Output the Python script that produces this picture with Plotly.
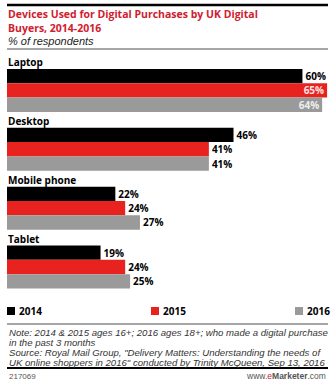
import plotly.graph_objects as go

categories = ["Laptop", "Desktop", "Mobile phone", "Tablet"]
years = ["2014", "2015", "2016"]
values_2014 = [60, 46, 22, 19]
values_2015 = [65, 41, 24, 24]
values_2016 = [64, 41, 27, 25]
series = [values_2014, values_2015, values_2016]
colors = ["#000000", "#e8231f", "#9a9a9a"]
inside_text_colors = ["#ffffff", "#ffe0e0", "#eeeeee"]

W, H = 336, 390
L, R, T, B = 7, 332, 61, 304  # plot area in px


def px(x):
    return (x - L) / (R - L)


def py(y):
    return (B - y) / (B - T)


fig = go.Figure()
for name, vals, col, icol in zip(years, series, colors, inside_text_colors):
    pos = ["inside" if v >= 62 else "outside" for v in vals]
    fig.add_trace(go.Bar(
        y=categories, x=vals, name=name, orientation="h",
        marker=dict(color=col, line=dict(width=0)),
        text=[f"{v}%" for v in vals], textposition=pos,
        insidetextanchor="end", constraintext="none",
        insidetextfont=dict(family="Open Sans", size=10, color=icol, weight="bold"),
        outsidetextfont=dict(family="Open Sans", size=10, color="#000000", weight="bold"),
        cliponaxis=False, showlegend=False,
    ))

fig.update_layout(
    width=W, height=H,
    margin=dict(l=L, r=W - R, t=T, b=H - B),
    paper_bgcolor="white", plot_bgcolor="white",
    barmode="group", bargap=0.27, bargroupgap=0,
    xaxis=dict(range=[0, 66], visible=False, fixedrange=True),
    yaxis=dict(autorange="reversed", visible=False, type="category"),
    font=dict(family="Open Sans"),
)

ann = []
# category labels
for c in categories:
    ann.append(dict(x=0, y=c, xref="x", yref="y", text=f"<b>{c}</b>", showarrow=False,
                    xanchor="left", yanchor="middle", yshift=28, xshift=-1,
                    font=dict(family="Open Sans", size=10, color="#000")))

# title
ann.append(dict(x=px(6), y=py(21), xref="paper", yref="paper", xanchor="left", yanchor="middle",
                align="left",
                text="<b>Devices Used for Digital Purchases by UK Digital<br>Buyers, 2014-2016</b>",
                showarrow=False,
                font=dict(family="Open Sans", size=10.5, color="#d0202e")))
ann.append(dict(x=px(6), y=py(40.5), xref="paper", yref="paper", xanchor="left", yanchor="middle",
                text="<i>% of respondents</i>", showarrow=False,
                font=dict(family="Liberation Sans", size=11, color="#222")))

# legend
leg_sq = [7, 151, 295]
for yr, col, x0 in zip(years, colors, leg_sq):
    ann.append(dict(x=px(x0 + 10), y=py(311), xref="paper", yref="paper", xanchor="left",
                    yanchor="middle", text=f"<b>{yr}</b>", showarrow=False,
                    font=dict(family="Open Sans", size=10, color="#000")))

notes = [
    "Note: 2014 & 2015 ages 16+; 2016 ages 18+; who made a digital purchase",
    "in the past 3 months",
    "Source: Royal Mail Group, \"Delivery Matters: Understanding the needs of",
    "UK online shoppers in 2016\" conducted by Trinity McQueen, Sep 13, 2016",
]
for i, t in enumerate(notes):
    ann.append(dict(x=px(7), y=py(332 + i * 10.3), xref="paper", yref="paper", xanchor="left",
                    yanchor="middle", text=f"<i>{t}</i>", showarrow=False,
                    font=dict(family="Liberation Sans", size=9.6, color="#333")))

ann.append(dict(x=px(7), y=py(376), xref="paper", yref="paper", xanchor="left", yanchor="middle",
                text="217069", showarrow=False,
                font=dict(family="Liberation Sans", size=8, color="#555")))
ann.append(dict(x=px(328), y=py(376), xref="paper", yref="paper", xanchor="right", yanchor="middle",
                text="www.<span style='color:#d0202e'>e</span><b>Marketer</b>.com", showarrow=False,
                font=dict(family="Liberation Sans", size=8.5, color="#555")))

shapes = []
# legend squares
for col, x0 in zip(colors, leg_sq):
    shapes.append(dict(type="rect", xref="paper", yref="paper", x0=px(x0), x1=px(x0 + 8),
                       y0=py(315), y1=py(307), fillcolor=col, line=dict(width=0)))
# rules
shapes.append(dict(type="line", xref="paper", yref="paper", x0=px(7), x1=px(328), y0=py(5), y1=py(5),
                   line=dict(color="#000", width=2.5)))
shapes.append(dict(type="line", xref="paper", yref="paper", x0=px(7), x1=px(328), y0=py(49), y1=py(49),
                   line=dict(color="#888", width=1.5)))
shapes.append(dict(type="line", xref="paper", yref="paper", x0=px(7), x1=px(328), y0=py(324), y1=py(324),
                   line=dict(color="#888", width=1.5)))
shapes.append(dict(type="line", xref="paper", yref="paper", x0=px(7), x1=px(328), y0=py(368), y1=py(368),
                   line=dict(color="#000", width=2)))

fig.update_layout(annotations=ann, shapes=shapes)
fig.write_html("out.html")
